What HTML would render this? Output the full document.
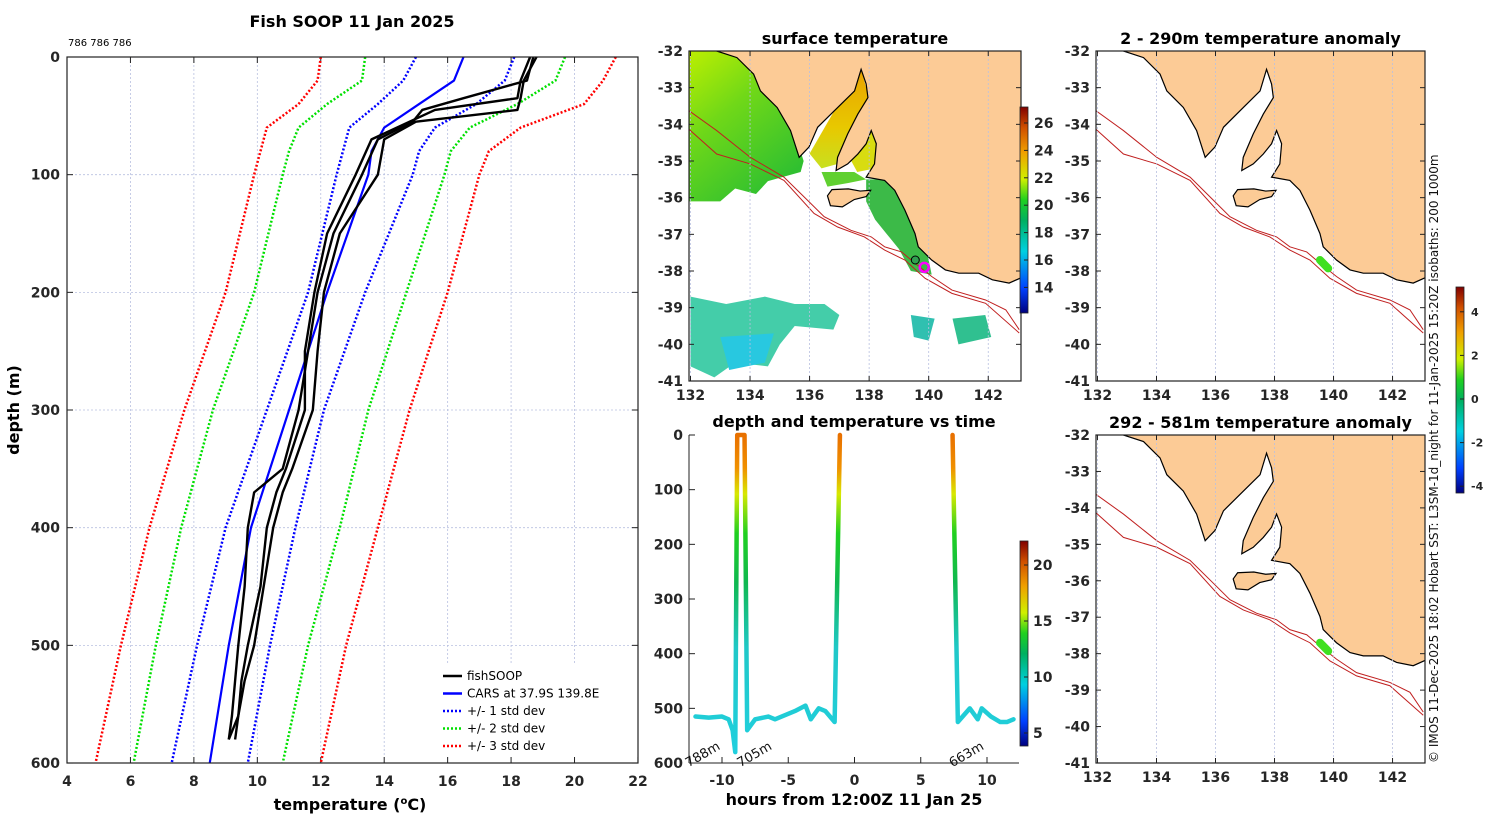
<!DOCTYPE html>
<html><head><meta charset="utf-8"><style>
html,body{margin:0;padding:0;background:#fff}
svg{display:block;font-family:"DejaVu Sans","Liberation Sans",sans-serif}
.t{font-weight:bold;font-size:14px;fill:#262626}
.tt{font-weight:bold;font-size:16px;fill:#000}
.g{stroke:#b8c0e0;stroke-width:0.8;stroke-dasharray:2 2}
</style></head><body>
<svg id="s" width="1500" height="820" viewBox="0 0 1500 820" xmlns="http://www.w3.org/2000/svg">
<defs>
<linearGradient id="jet" x1="0" y1="1" x2="0" y2="0">
<stop offset="0" stop-color="#00007f"/><stop offset="0.12" stop-color="#0040ff"/><stop offset="0.3" stop-color="#00d0e0"/><stop offset="0.45" stop-color="#00b060"/><stop offset="0.55" stop-color="#20d020"/><stop offset="0.65" stop-color="#d0f000"/><stop offset="0.78" stop-color="#f0a000"/><stop offset="0.9" stop-color="#d05000"/><stop offset="1" stop-color="#800000"/>
</linearGradient>
<linearGradient id="tgrad" gradientUnits="userSpaceOnUse" x1="0" y1="763" x2="0" y2="435">
<stop offset="0" stop-color="#20d0e0"/><stop offset="0.35" stop-color="#20c8c8"/><stop offset="0.55" stop-color="#10b850"/><stop offset="0.7" stop-color="#20d020"/><stop offset="0.82" stop-color="#d8e800"/><stop offset="0.9" stop-color="#f09000"/><stop offset="1" stop-color="#e87000"/>
</linearGradient>
<linearGradient id="sstg" x1="0" y1="0" x2="0.6" y2="1">
<stop offset="0" stop-color="#c0f000"/><stop offset="0.45" stop-color="#70d818"/><stop offset="1" stop-color="#30c030"/>
</linearGradient>
<linearGradient id="gulfg" x1="0" y1="0" x2="0" y2="1">
<stop offset="0" stop-color="#e8a000"/><stop offset="0.6" stop-color="#e8c800"/><stop offset="1" stop-color="#c8e020"/>
</linearGradient>
</defs>
<g id="root"></g>
</svg>
<script>
// ===== Left profile chart data (depth m, temperature °C) =====
const profDepths = [0,20,40,60,80,100,200,300,400,500,600];
const red3L   = [12.0,11.9,11.3,10.3,10.1,9.9,9.0,7.7,6.6,5.7,4.9];
const green2L = [13.4,13.3,12.2,11.3,11.0,10.8,9.9,8.6,7.6,6.8,6.1];
const blue1L  = [15.0,14.6,13.8,12.9,12.7,12.5,11.6,10.3,9.0,8.1,7.3];
const cars    = [16.5,16.2,15.1,14.0,13.6,13.5,12.2,11.0,9.8,9.1,8.5];
const blue1R  = [18.1,17.8,16.9,15.6,15.1,14.9,13.4,12.1,11.2,10.4,9.7];
const green2R = [19.7,19.4,18.2,16.7,16.1,15.9,14.7,13.5,12.6,11.6,10.8];
const red3R   = [21.3,20.9,20.3,18.3,17.3,17.0,16.0,14.8,13.8,12.8,12.0];
const fishDepths = [0,20,35,45,55,70,100,150,200,250,300,350,370,400,450,500,530,560,580];
const fishA = [18.7,18.5,16.5,15.2,14.9,13.8,13.3,12.4,11.9,11.6,11.3,10.8,9.9,9.7,9.6,9.4,9.3,9.2,9.1];
const fishB = [18.6,18.3,18.2,15.6,14.8,13.6,13.1,12.2,11.8,11.5,11.5,10.9,10.6,10.3,10.1,9.7,9.5,9.4,9.1];
const fishC = [18.8,18.4,18.3,18.2,15.0,14.0,13.8,12.6,12.1,11.9,11.75,11.1,10.8,10.5,10.2,9.9,9.6,9.4,9.3];
const tempTicks = [4,6,8,10,12,14,16,18,20,22];
const depthTicks = [0,100,200,300,400,500,600];
// ===== Time chart data =====
const timeA  = [-12,-11,-10,-9.5,-9.2,-9.0,-8.85,-8.65,-8.5,-8.3,-8.1,-7.5,-6.5,-6,-5,-4.5,-3.7,-3.3,-2.7,-2.2,-1.5,-1.1];
const depthA = [515,517,515,520,540,580,0,0,0,0,540,520,515,520,510,505,495,520,500,505,525,0];
const timeB  = [7.4,7.8,8.7,9.3,9.6,10.3,11,11.5,12];
const depthB = [0,525,500,520,500,515,525,525,520];
const timeTicks = [-10,-5,0,5,10];
const tDepthTicks = [0,100,200,300,400,500,600];
const tcbTicks = [20,15,10,5];
// ===== Map data =====
const lonTicks = [132,134,136,138,140,142];
const latTicks = [-32,-33,-34,-35,-36,-37,-38,-39,-40,-41];
const sstTicks = [26,24,22,20,18,16,14];
const anomTicks = [4,2,0,-2,-4];

const NS='http://www.w3.org/2000/svg';
const root=document.getElementById('root');
function el(tag,attrs,parent,text){const e=document.createElementNS(NS,tag);for(const k in attrs)e.setAttribute(k,attrs[k]);if(text!==undefined)e.textContent=text;(parent||root).appendChild(e);return e;}

// ---------- Left chart ----------
const lx=t=>67+(t-4)*31.72, ly=d=>57+d*1.1767;
const L=el('g',{},root);


tempTicks.forEach(t=>{if(t>4&&t<22)el('line',{x1:lx(t),x2:lx(t),y1:57,y2:763,class:'g',stroke:'#e8c0b0'},L);
 const tl=el('text',{x:lx(t),y:786,class:'t','text-anchor':'middle'},L,String(t));
 });
depthTicks.forEach(d=>{if(d>0&&d<600)el('line',{x1:67,x2:638,y1:ly(d),y2:ly(d),class:'g'},L);
 const tl=el('text',{x:60,y:ly(d)+5,class:'t','text-anchor':'end'},L,String(d));
 
 el('line',{x1:67,x2:73,y1:ly(d),y2:ly(d),stroke:'#222'},L);el('line',{x1:632,x2:638,y1:ly(d),y2:ly(d),stroke:'#222'},L);});
tempTicks.forEach(t=>{el('line',{x1:lx(t),x2:lx(t),y1:57,y2:63,stroke:'#222'},L);el('line',{x1:lx(t),x2:lx(t),y1:757,y2:763,stroke:'#222'},L);});
function prof(vals,deps,color,dash,w,name){const p=el('polyline',{points:vals.map((v,i)=>lx(v)+','+ly(deps[i])).join(' '),fill:'none',stroke:color,'stroke-width':w,'stroke-dasharray':dash||'none','stroke-linejoin':'round'},L);
 }
prof(red3L,profDepths,'#ff0000','2 2',2.5,'minus-3-std-line');
prof(green2L,profDepths,'#00e000','2 2',2.5,'minus-2-std-line');
prof(blue1L,profDepths,'#0000ff','2 2',2.5,'minus-1-std-line');
prof(blue1R,profDepths,'#0000ff','2 2',2.5,'plus-1-std-line');
prof(green2R,profDepths,'#00e000','2 2',2.5,'plus-2-std-line');
prof(red3R,profDepths,'#ff0000','2 2',2.5,'plus-3-std-line');
prof(cars,profDepths,'#0000ff','',2.2,'cars-line');
prof(fishA,fishDepths,'#000','',2.4,'fishsoop-line');
prof(fishB,fishDepths,'#000','',2.4,'fishsoop-line');
prof(fishC,fishDepths,'#000','',2.4,'fishsoop-line');
el('rect',{x:67,y:57,width:571,height:706,fill:'none',stroke:'#222','stroke-width':1.2},L);
el('text',{x:352,y:27,class:'tt','text-anchor':'middle'},L,'Fish SOOP 11 Jan 2025');
el('text',{x:68,y:46,'font-size':10,fill:'#000'},L,'786 786 786');
const xt=el('text',{x:350,y:810,class:'tt','text-anchor':'middle','font-size':15},L,'temperature (');
el('tspan',{'font-size':10,dy:-6},xt,'o');el('tspan',{dy:6},xt,'C)');

const yt=el('text',{x:19,y:410,class:'tt','text-anchor':'middle','font-size':15,transform:'rotate(-90 19 410)'},L,'depth (m)');

// legend
const leg=el('g',{},L);
el('rect',{x:438,y:664,width:192,height:92,fill:'#fff'},leg);
[['fishSOOP','#000',''],['CARS at 37.9S 139.8E','#0000ff',''],['+/- 1 std dev','#0000ff','2 2'],['+/- 2 std dev','#00e000','2 2'],['+/- 3 std dev','#ff0000','2 2']].forEach((e,i)=>{
 const y=676+i*17.5;const g=el('g',{},leg);
 el('line',{x1:443,x2:462,y1:y,y2:y,stroke:e[1],'stroke-width':2.5,'stroke-dasharray':e[2]||'none'},g);
 el('text',{x:467,y:y+4,'font-size':12,fill:'#000'},g,e[0]);});

// ---------- Time chart ----------
const tx=t=>854.5+t*13.25, ty=d=>435+d*0.5467;
const T=el('g',{},root);
[[timeA,depthA],[timeB,depthB]].forEach(s=>{const p=el('polyline',{points:s[0].map((t,i)=>tx(t)+','+ty(s[1][i])).join(' '),fill:'none',stroke:'url(#tgrad)','stroke-width':4.5,'stroke-linejoin':'round','stroke-linecap':'round'},T);
 });
el('line',{x1:689,x2:689,y1:435,y2:763,stroke:'#222'},T);el('line',{x1:689,x2:1019,y1:763,y2:763,stroke:'#222'},T);
timeTicks.forEach(t=>{el('line',{x1:tx(t),x2:tx(t),y1:757,y2:763,stroke:'#222'},T);
 const l=el('text',{x:tx(t),y:785,class:'t','text-anchor':'middle'},T,String(t));});
tDepthTicks.forEach(d=>{el('line',{x1:689,x2:695,y1:ty(d),y2:ty(d),stroke:'#222'},T);
 const l=el('text',{x:683,y:ty(d)+5,class:'t','text-anchor':'end'},T,String(d));});
el('text',{x:854,y:427,class:'tt','text-anchor':'middle'},T,'depth and temperature vs time');
el('text',{x:854,y:805,class:'tt','text-anchor':'middle','font-size':15},T,'hours from 12:00Z 11 Jan 25');
[['788m',-11.3],['705m',-7.4],['663m',8.6]].forEach(a=>{const x=tx(a[1]),y=758;el('text',{x:x,y:y,'font-size':13,fill:'#111','text-anchor':'middle',transform:`rotate(-30 ${x} ${y})`},T,a[0]);});
el('rect',{x:1020,y:541,width:8,height:205,fill:'url(#jet)',stroke:'#222','stroke-width':0.8},T);
tcbTicks.forEach(v=>{const y=733-(v-5)*(112/10);el('text',{x:1033,y:y+5,class:'t'},T,String(v));el('line',{x1:1024,x2:1028,y1:y,y2:y,stroke:'#222'},T);});

// ---------- Maps ----------
const coast=[[132.88,-32.0],[133.56,-32.18],[134.12,-32.63],[134.35,-33.09],[134.91,-33.54],[135.36,-34.17],[135.65,-34.9],[135.98,-34.62],[136.27,-34.08],[136.83,-33.63],[137.51,-33.09],[137.73,-32.5],[137.9,-32.9],[137.96,-33.27],[137.62,-33.72],[137.28,-34.26],[136.94,-34.9],[136.89,-35.26],[137.28,-35.08],[137.62,-34.81],[137.9,-34.53],[138.07,-34.17],[138.24,-34.53],[138.18,-35.08],[137.9,-35.44],[138.52,-35.53],[138.86,-35.8],[139.2,-36.34],[139.54,-36.98],[139.65,-37.34],[140.1,-37.7],[140.56,-37.97],[141.01,-38.06],[141.68,-38.06],[142.14,-38.24],[142.7,-38.33],[143.2,-38.15],[143.2,-31.9],[132.88,-31.9]];
const kangaroo=[[136.6,-35.95],[136.75,-35.78],[137.3,-35.76],[137.7,-35.82],[138.05,-35.8],[137.9,-35.97],[137.5,-36.05],[137.1,-36.25],[136.7,-36.22]];
const iso1=[[131.9,-33.6],[132.88,-34.17],[134.01,-34.9],[135.14,-35.44],[135.93,-36.07],[136.49,-36.52],[137.39,-36.89],[138.07,-37.07],[138.52,-37.34],[139.09,-37.48],[139.54,-37.79],[140.1,-38.15],[140.78,-38.52],[141.91,-38.79],[142.59,-39.06],[143.04,-39.6]];
const iso2=[[131.9,-34.1],[132.88,-34.81],[134.01,-35.08],[135.14,-35.53],[136.15,-36.43],[136.94,-36.8],[137.84,-37.07],[138.52,-37.43],[139.2,-37.7],[139.88,-38.2],[140.78,-38.61],[141.91,-38.88],[143.04,-39.69]];
function map(x0,x1,y0,y1,title,name,sst){
 const G=el('g',{},root);
 const mx=lon=>x0+(lon-131.95)*(x1-x0)/(143.1-131.95), my=lat=>y0+(-32-lat)*(y1-y0)/9;
 const pts=a=>a.map(p=>mx(p[0])+','+my(p[1])).join(' ');
 const cid='c'+name;const cp=el('clipPath',{id:cid},G);el('rect',{x:x0,y:y0,width:x1-x0,height:y1-y0},cp);
 const C=el('g',{'clip-path':`url(#${cid})`},G);
 if(sst){
  el('polygon',{points:pts([[131.9,-31.9],[134.5,-31.9],[135.6,-34.5],[135.8,-35.0],[135.7,-35.3],[134.6,-35.55],[134.2,-35.9],[133.5,-35.75],[133.0,-36.1],[131.9,-36.1]]),fill:'url(#sstg)'},C);
  el('polygon',{points:pts([[136.0,-34.8],[137.7,-32.4],[138.0,-33.3],[137.3,-35.0],[136.4,-35.2]]),fill:'url(#gulfg)'},C);
  el('polygon',{points:pts([[137.4,-35.0],[138.1,-34.0],[138.3,-34.5],[138.2,-35.2],[137.6,-35.3]]),fill:'#d8dc10'},C);
  el('polygon',{points:pts([[136.4,-35.3],[137.5,-35.3],[137.9,-35.5],[137.3,-35.6],[136.6,-35.7]]),fill:'#60d030'},C);
  el('polygon',{points:pts([[137.9,-35.5],[138.9,-35.5],[139.5,-36.1],[139.9,-37.3],[140.1,-38.1],[139.4,-38.0],[139.0,-37.4],[138.6,-37.0],[138.2,-36.6],[137.9,-36.1]]),fill:'#3cba48'},C);
  el('polygon',{points:pts([[132,-38.7],[133.2,-38.9],[134.5,-38.7],[135.5,-38.9],[136.5,-38.9],[137.0,-39.2],[136.8,-39.6],[135.5,-39.5],[135,-40.0],[134.6,-40.6],[133.5,-40.5],[132.8,-40.9],[132,-40.6]]),fill:'#30c8a0',opacity:0.9},C);
  el('polygon',{points:pts([[133,-39.8],[134.8,-39.7],[134.5,-40.5],[133.3,-40.7]]),fill:'#28c8e0'},C);
  el('polygon',{points:pts([[140.8,-39.3],[141.9,-39.2],[142.1,-39.8],[141.0,-40.0]]),fill:'#30c090'},C);
  el('polygon',{points:pts([[139.4,-39.2],[140.2,-39.3],[140.0,-39.9],[139.5,-39.8]]),fill:'#30c0b0'},C);
 }
 el('polygon',{points:pts(coast),fill:'#fccb96',stroke:'#000','stroke-width':1.2},C);
 el('polygon',{points:pts(kangaroo),fill:'#fccb96',stroke:'#000','stroke-width':1.2},C);
 el('polyline',{points:pts(iso1),fill:'none',stroke:'#c02020','stroke-width':1},C);
 el('polyline',{points:pts(iso2),fill:'none',stroke:'#c02020','stroke-width':1},C);
 lonTicks.forEach(l=>{el('line',{x1:mx(l),x2:mx(l),y1:y0,y2:y1,class:'g'},C);
  const t=el('text',{x:mx(l),y:y1+19,class:'t','text-anchor':'middle'},G,String(l));
  el('line',{x1:mx(l),x2:mx(l),y1:y1-5,y2:y1,stroke:'#222'},G);el('line',{x1:mx(l),x2:mx(l),y1:y0,y2:y0+5,stroke:'#222'},G);});
 latTicks.forEach(l=>{if(l>-32&&l>-41)el('line',{x1:x0,x2:x1,y1:my(l),y2:my(l),class:'g'},C);
  const t=el('text',{x:x0-6,y:my(l)+5,class:'t','text-anchor':'end'},G,String(l));
  el('line',{x1:x0,x2:x0+5,y1:my(l),y2:my(l),stroke:'#222'},G);el('line',{x1:x1-5,x2:x1,y1:my(l),y2:my(l),stroke:'#222'},G);});
 if(sst){el('circle',{cx:mx(139.55),cy:my(-37.7),r:4,fill:'#30a050',stroke:'#000'},G);el('circle',{cx:mx(139.85),cy:my(-37.9),r:4.5,fill:'none',stroke:'#ff00ff','stroke-width':2.5},G);}
 else{el('line',{x1:mx(139.54),y1:my(-37.7),x2:mx(139.82),y2:my(-37.93),stroke:'#40e020','stroke-width':8,'stroke-linecap':'round'},G);}
 el('rect',{x:x0,y:y0,width:x1-x0,height:y1-y0,fill:'none',stroke:'#222','stroke-width':1.2},G);
 el('text',{x:(x0+x1)/2,y:y0-7,class:'tt','text-anchor':'middle'},G,title);
}
map(689,1021,51,381,'surface temperature','sst-map',true);
map(1096,1425,51,381,'2 - 290m temperature anomaly','anomaly-map-shallow',false);
map(1096,1425,435,763,'292 - 581m temperature anomaly','anomaly-map-deep',false);
// SST colorbar
const cb1=el('rect',{x:1020,y:107,width:8,height:206,fill:'url(#jet)',stroke:'#222','stroke-width':0.8});

sstTicks.forEach(v=>{const y=123+(26-v)*13.7;el('text',{x:1034,y:y+5,class:'t'},root,String(v));el('line',{x1:1024,x2:1028,y1:y,y2:y,stroke:'#222'});});
const cb2=el('rect',{x:1456,y:287,width:8,height:206,fill:'url(#jet)',stroke:'#222','stroke-width':0.8});

anomTicks.forEach(v=>{const y=399-v*21.8;el('text',{x:1471,y:y+4,'font-size':11,'font-weight':'bold',fill:'#262626'},root,String(v));el('line',{x1:1460,x2:1464,y1:y,y2:y,stroke:'#222'});});
const cr=el('text',{x:1438,y:763,'font-size':12,fill:'#111',transform:'rotate(-90 1438 763)'},root,'© IMOS 11-Dec-2025 18:02 Hobart SST: L3SM-1d_night for 11-Jan-2025 15:20Z isobaths: 200  1000m');

</script>
</body></html>
